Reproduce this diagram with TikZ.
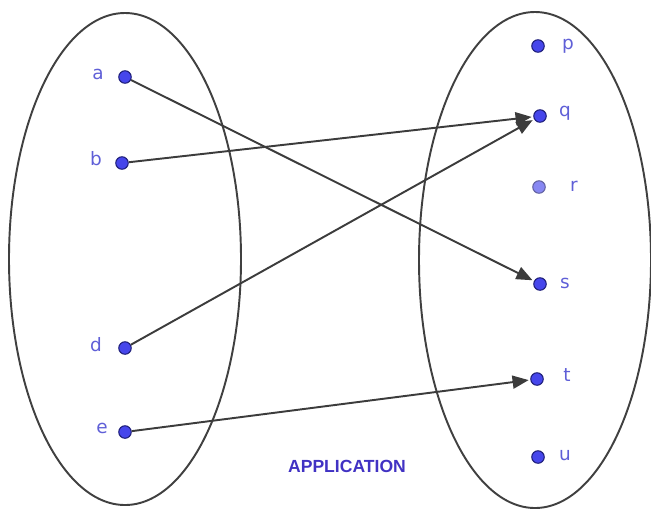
\documentclass[tikz,border=0pt]{standalone}
\usepackage{fontspec}
\setmainfont{DejaVu Sans}
\newfontfamily\titlefont{Liberation Sans}
\usetikzlibrary{arrows,shapes,positioning}
\definecolor{ptblue}{RGB}{70,70,235}
\definecolor{ptedge}{RGB}{30,30,120}
\definecolor{lblblue}{RGB}{95,95,215}
\definecolor{arrgray}{RGB}{60,60,60}
\definecolor{ttlblue}{RGB}{65,50,195}
\begin{document}
\begin{tikzpicture}[x=0.02cm,y=-0.02cm]
                    \tikzstyle{every node}+=[inner sep=0pt]
                    \tikzstyle{pt}=[circle,fill=ptblue,draw=ptedge,line width=0.6pt,minimum size=0.25cm]
                    \tikzstyle{lbl}=[text=lblblue,font=\fontsize{10.5}{12}\selectfont]
                    \tikzstyle{map}=[draw=arrgray,line width=1.1pt,-triangle 45,shorten >=1pt]
                    \useasboundingbox (0,0) rectangle (651,508);
                    \draw [black!75, line width=1.1pt] (125,259) ellipse (116 and 246);
                    \draw [black!75, line width=1.1pt] (535,260) ellipse (116 and 248);
                    \node [pt] (a) at (125,77) {};
                    \node [lbl] (la) at (98,74) {a};
                    \node [pt] (b) at (122,163) {};
                    \node [lbl] (lb) at (96,159) {b};
                    \node [pt] (d) at (125,348) {};
                    \node [lbl] (ld) at (96,345) {d};
                    \node [pt] (e) at (125,432) {};
                    \node [lbl] (le) at (102,428) {e};
                    \node [pt] (p) at (538,46) {};
                    \node [lbl] (lp) at (568,46) {p};
                    \node [pt] (q) at (540,116) {};
                    \node [lbl] (lq) at (565,113) {q};
                    \node [pt, fill=ptblue!65, draw=ptedge!70] (r) at (539,187) {};
                    \node [lbl] (lr) at (574,186) {r};
                    \node [pt] (s) at (540,284) {};
                    \node [lbl] (ls) at (565,283) {s};
                    \node [pt] (t) at (537,379) {};
                    \node [lbl] (lt) at (567,375) {t};
                    \node [pt] (u) at (538,457) {};
                    \node [lbl] (lu) at (565,455) {u};
                    \draw [map] (a) -- (s);
                    \draw [map] (b) -- (q);
                    \draw [map] (d) -- (q);
                    \draw [map] (e) -- (t);
                    \node [text=ttlblue, font=\titlefont\bfseries\fontsize{10}{12}\selectfont] (title) at (347,466) {APPLICATION};
                \end{tikzpicture}
\end{document}
